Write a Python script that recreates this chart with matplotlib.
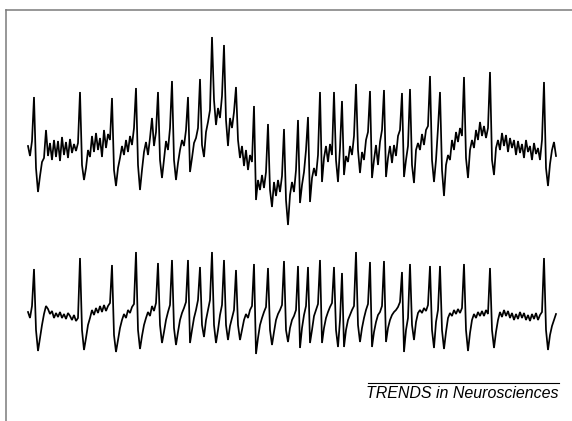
import matplotlib
matplotlib.use("Agg")
import matplotlib.pyplot as plt
import numpy as np
from matplotlib.lines import Line2D

# Paired intracellular recordings, potential
# (arbitrary units, 0 = resting level of each trace), one sample every 5 ms
dt_ms = 5

top_v = [
    4, -6, 9, 53, -18, -42, -26, -12, -8, 20,
    -6, 7, -10, 10, -7, 9, -11, 13, -5, 8,
    -8, 11, -3, 6, -1, 7, 58, -15, -30, -18,
    0, -7, 14, -2, 17, 0, 12, -7, 20, 2,
    16, 10, 52, -20, -36, -18, -8, 4, -5, 10,
    -2, 14, 5, 22, 62, -15, -40, -20, -2, 8,
    -5, 12, 32, 4, 18, 58, -10, -28, -10, 9,
    0, 22, 69, -10, -30, -13, 0, 10, 4, 20,
    53, -22, -8, 7, 12, 22, 71, 5, -7, 18,
    28, 40, 113, 50, 25, 42, 32, 54, 105, 30,
    4, 32, 22, 38, 63, 10, -8, 4, -16, 0,
    -20, -5, -12, 44, -50, -30, -40, -25, -38, -22,
    26, -40, -57, -32, -46, -30, -42, -26, 21, -50,
    -75, -45, -32, -42, -20, 30, -53, -35, -22, 0,
    33, -52, -28, -18, -26, -5, 58, -32, -8, 4,
    -12, 6, -5, 58, -10, -32, 2, 49, -25, -6,
    -12, 4, -5, 14, 66, 0, -23, -2, -10, 10,
    18, 59, -28, -10, 5, -15, 8, 20, 60, -27,
    -8, 4, -13, 5, -6, 14, 20, 57, -27, -10,
    4, 61, -15, -33, 0, 7, 0, 16, 5, 20,
    24, 74, -10, -32, -10, 22, 58, -20, -46, -15,
    -5, -10, 10, 0, 18, 8, 22, 14, 73, -8,
    -28, 0, 10, 2, 20, 10, 28, 14, 24, 12,
    22, 78, -10, -25, 2, 10, 0, 17, 4, 15,
    -2, 12, 2, 10, -5, 9, -3, 6, -8, 10,
    -2, 4, -10, 7, -4, 2, -10, 10, 68, -18,
    -36, -14, 0, 8, -6,
]

bottom_v = [
    3, -3, 9, 46, -15, -36, -23, -10, 1, 9,
    6, 1, 4, -3, 2, -2, 3, -3, 1, -4,
    2, -1, -5, 0, -6, -3, 57, -15, -35, -23,
    -10, -3, 5, 0, 7, 2, 9, 3, 10, 4,
    9, 12, 50, -20, -37, -25, -13, -5, 1, -3,
    5, 2, 8, 11, 63, -15, -34, -21, -10, -3,
    3, -1, 9, 4, 12, 52, -10, -28, -17, -5,
    3, 10, 55, -13, -30, -17, -5, 2, 7, 13,
    55, -28, -15, -3, 5, 15, 48, -10, -22, -5,
    5, 15, 63, -10, -28, -15, 0, 10, 55, -10,
    -25, -11, -3, 5, 45, -10, -25, -15, -5, 1,
    -3, 5, 9, 51, -39, -23, -10, -3, 3, 8,
    47, -15, -30, -17, -5, 1, 5, 10, 54, -15,
    -27, -13, -5, -1, 5, 49, -33, -13, 0, 9,
    48, -28, -15, -1, 5, 11, 55, -28, -13, -3,
    3, 8, 12, 48, -15, -32, -5, 42, -32, -15,
    -5, 0, 5, 9, 63, -10, -27, -13, -3, 5,
    11, 53, -32, -17, -7, 0, 3, 9, 54, -27,
    -13, -5, 0, 3, 5, 8, 13, 43, -37, -15,
    -3, 51, -10, -25, -7, 2, 5, 2, 7, 4,
    10, 49, -15, -33, -7, 5, 49, -15, -34, -17,
    -3, 2, -1, 5, 1, 6, 2, 7, 51, -15,
    -36, -18, -5, 1, -3, 3, -1, 4, -1, 5,
    1, 47, -15, -33, -17, -5, 3, -2, 5, -1,
    4, -3, 2, -5, 1, -4, 3, -3, 2, -5,
    0, -6, 1, -4, 2, -5, 0, 3, 57, -15,
    -35, -20, -11, -5, 1,
]

caption = "TRENDS in Neurosciences"

t = np.arange(len(top_v)) * dt_ms
trace_gap = 165  # vertical offset of the second recording

fig = plt.figure(figsize=(5.72, 4.21), dpi=100)
ax = fig.add_axes([0, 0, 1, 1])
ax.plot(t, top_v, color="black", lw=1.25, solid_joinstyle="miter")
ax.plot(t, np.array(bottom_v) - trace_gap, color="black", lw=1.25,
        solid_joinstyle="miter")
ax.set_xlim(-70, 1360)
ax.set_ylim(-271, 150)
ax.axis("off")

# grey frame (top and left edges only)
frame_col = "#7a7a7a"
fig.add_artist(Line2D([6 / 572, 1], [1 - 10 / 421, 1 - 10 / 421],
                      color=frame_col, lw=1.1, transform=fig.transFigure))
fig.add_artist(Line2D([6 / 572, 6 / 572], [0, 1 - 10 / 421],
                      color=frame_col, lw=1.1, transform=fig.transFigure))

# journal caption with rule above it
fig.text(559 / 572, 1 - 393 / 421, caption, ha="right", va="center",
         fontsize=11.5, style="italic", family="Liberation Sans")
fig.add_artist(Line2D([368 / 572, 559 / 572], [1 - 383 / 421, 1 - 383 / 421],
                      color="black", lw=0.8, transform=fig.transFigure))

fig.savefig("out.png", dpi=100)
